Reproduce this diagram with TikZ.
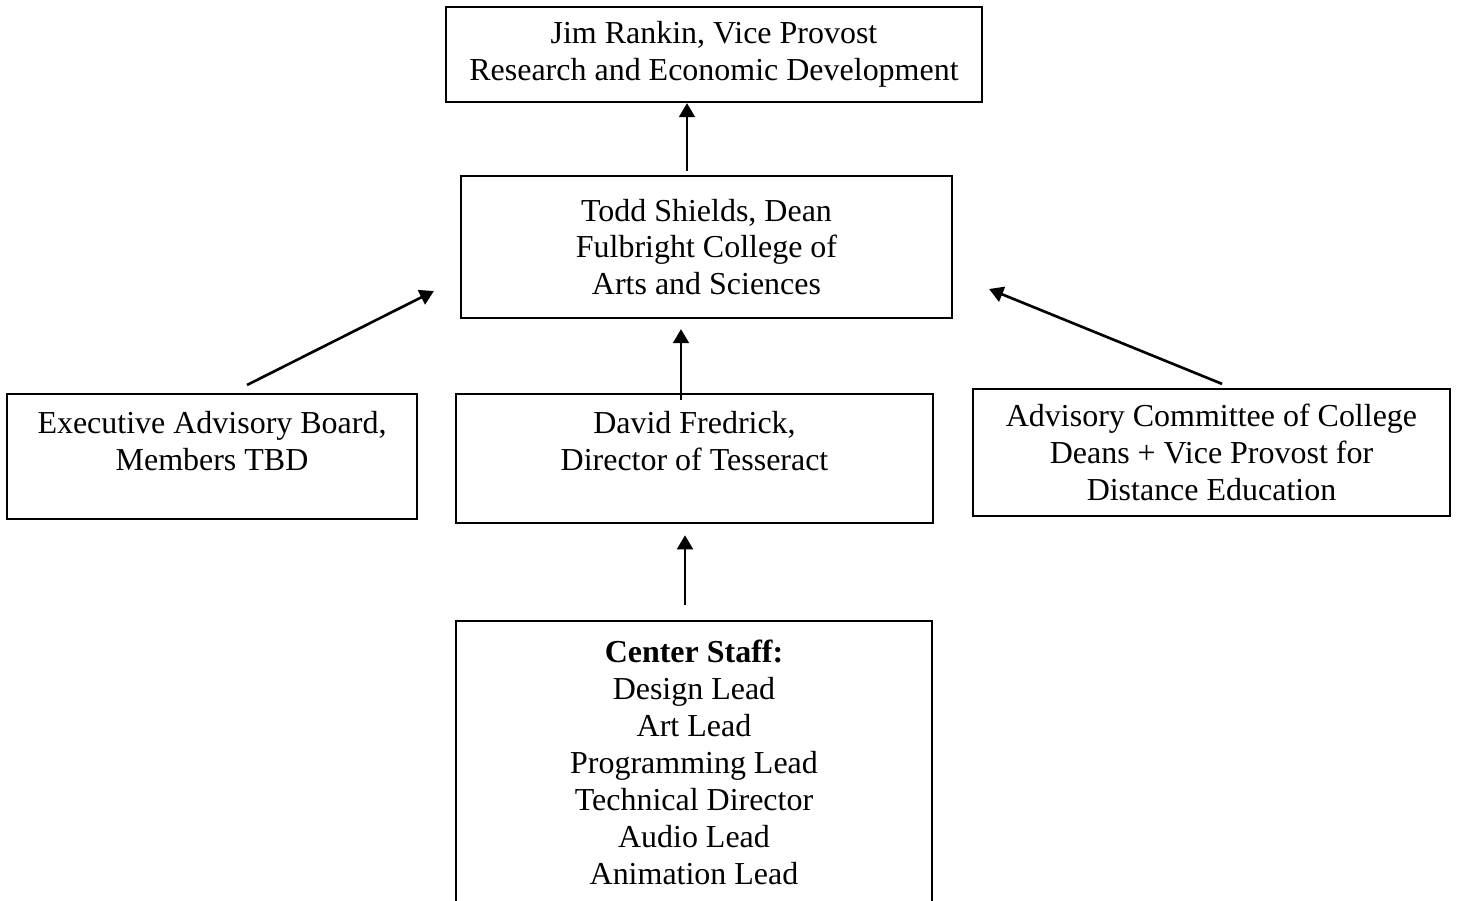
\documentclass[tikz,border=0pt]{standalone}
\usepackage{fontspec}
\setmainfont{Liberation Serif}
\usetikzlibrary{arrows.meta, calc}

\tikzset{
  box/.style={draw, line width=1.3pt, align=center, inner sep=0pt,
    font=\fontsize{18.2}{21}\selectfont},
  link/.style={->, line width=1.5pt},
}

\begin{document}
\begin{tikzpicture}[x=0.02cm, y=-0.02cm, >={Triangle[length=8pt, width=9pt]}]
    \useasboundingbox (0,0) rectangle (1458,900);
    % boxes
    \node [box, minimum width=10.72cm, minimum height=1.9cm] (jim) at (714,54.5) {Jim Rankin, Vice Provost\\Research and Economic Development};
    \node [box, minimum width=9.82cm, minimum height=2.84cm] (todd) at (706.5,247) {Todd Shields, Dean\\Fulbright College of\\Arts and Sciences};
    \node [box, minimum width=8.2cm, text height=1.52cm, text depth=0.98cm, anchor=north] (exec) at (212,393) {Executive Advisory Board,\\Members TBD};
    \node [box, minimum width=9.54cm, text height=1.52cm, text depth=1.06cm, anchor=north] (david) at (694.5,393) {David Fredrick,\\Director of Tesseract};
    \node [box, minimum width=9.54cm, minimum height=2.54cm] (advis) at (1211.5,452.5) {Advisory Committee of College\\Deans + Vice Provost for\\Distance Education};
    \node [box, minimum width=9.52cm, minimum height=5.66cm] (staff) at (694,762.5) {\textbf{Center Staff:}\\Design Lead\\Art Lead\\Programming Lead\\Technical Director\\Audio Lead\\Animation Lead};
    % reporting lines
    \draw [link] ($(todd.north)+(-19.5,-4)$) -- ($(jim.south)+(-27,0)$);
    \draw [link] ($(david.north)+(-13.5,7)$) -- ($(todd.south)+(-25.5,10)$);
    \draw [link] ($(exec.north)+(35,-8)$) -- ($(todd.west)+(-26,44)$);
    \draw [link] ($(advis.north)+(10.5,-4)$) -- ($(todd.east)+(36,42)$);
    \draw [link] ($(staff.north)+(-9,-15)$) -- ($(david.south)+(-9.5,11)$);
\end{tikzpicture}
\end{document}
